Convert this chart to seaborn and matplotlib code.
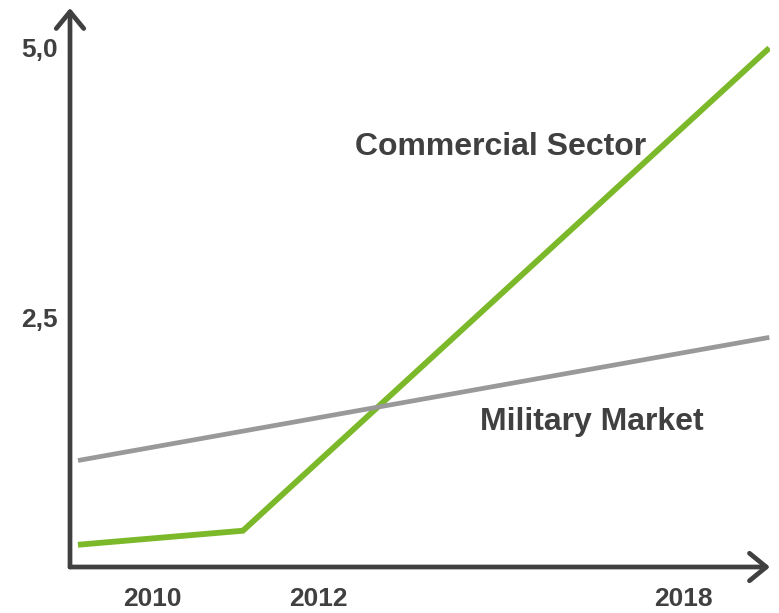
import matplotlib
matplotlib.use("Agg")
import matplotlib.pyplot as plt
import seaborn as sns
import pandas as pd

# --- data ---
commercial_x = [2008.885, 2011.37, 2019.30]
commercial_y = [0.40, 0.53, 5.00]
military_x = [2008.885, 2019.30]
military_y = [1.18, 2.32]
series_names = ["Commercial Sector", "Military Market"]
x_tick_pos = [2010, 2012.5, 2018]
x_tick_labels = ["2010", "2012", "2018"]
y_tick_pos = [2.5, 5.0]
y_tick_labels = ["2,5", "5,0"]

df = pd.concat([
    pd.DataFrame({"year": commercial_x, "value": commercial_y, "series": series_names[0]}),
    pd.DataFrame({"year": military_x, "value": military_y, "series": series_names[1]}),
])

sns.set_theme(style="white")
plt.rcParams["font.family"] = ["Liberation Sans", "DejaVu Sans"]

AX = "#404040"
fig = plt.figure(figsize=(7.79, 6.13), dpi=100)
ax = fig.add_axes([70 / 779, (613 - 567) / 613, 700 / 779, 559 / 613])

sns.lineplot(data=df, x="year", y="value", hue="series",
             palette={series_names[0]: "#7cb92a", series_names[1]: "#999999"},
             ax=ax, legend=False, sort=False)
for line, lw in zip(ax.lines, [4.2, 3.4]):
    line.set_linewidth(lw)
    line.set_solid_capstyle("butt")
    line.set_solid_joinstyle("miter")

ax.set_xlim(2008.765, 2019.31)
ax.set_ylim(0.194, 5.37)
for s in ax.spines.values():
    s.set_visible(False)

ax.set_xticks(x_tick_pos)
ax.set_xticklabels(x_tick_labels)
ax.set_yticks(y_tick_pos)
ax.set_yticklabels(y_tick_labels)
ax.tick_params(axis="x", length=0, pad=14.5, labelsize=19, labelcolor=AX)
ax.tick_params(axis="y", length=0, pad=9, labelsize=19, labelcolor=AX)
for t in ax.get_xticklabels() + ax.get_yticklabels():
    t.set_fontweight("bold")
ax.set_xlabel("")
ax.set_ylabel("")

# axes with arrow heads
arrow_kw = dict(arrowstyle="->,head_length=0.55,head_width=0.45", color=AX, lw=3.4,
                mutation_scale=22, shrinkA=0, shrinkB=0)
ax.annotate("", xy=(0, 1), xytext=(0, 0), xycoords="axes fraction",
            arrowprops=arrow_kw, annotation_clip=False)
ax.annotate("", xy=(1.0, 0), xytext=(0, 0), xycoords="axes fraction",
            arrowprops=arrow_kw, annotation_clip=False)

ax.text(2015.25, 4.08, series_names[0], fontsize=23, fontweight="bold", color=AX,
        ha="center", va="center")
ax.text(2016.62, 1.54, series_names[1], fontsize=23, fontweight="bold", color=AX,
        ha="center", va="center")

fig.savefig("out.png", dpi=100)
